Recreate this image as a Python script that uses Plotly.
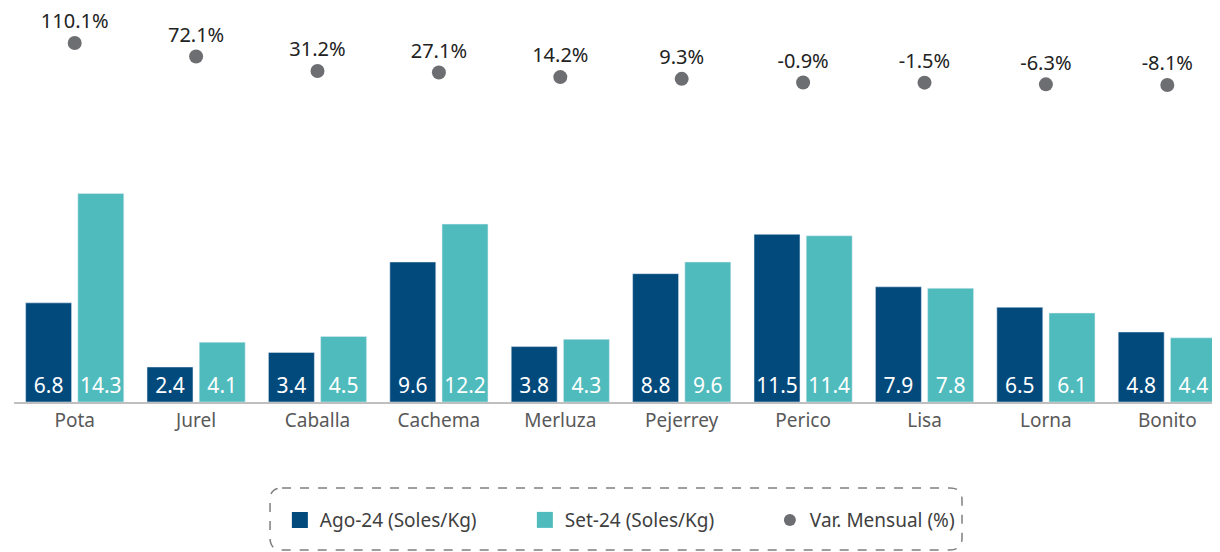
import plotly.graph_objects as go

# Datos
especies = ["Pota", "Jurel", "Caballa", "Cachema", "Merluza",
            "Pejerrey", "Perico", "Lisa", "Lorna", "Bonito"]
ago_24 = [6.8, 2.4, 3.4, 9.6, 3.8, 8.8, 11.5, 7.9, 6.5, 4.8]
set_24 = [14.3, 4.1, 4.5, 12.2, 4.3, 9.6, 11.4, 7.8, 6.1, 4.4]
var_mensual = [110.1, 72.1, 31.2, 27.1, 14.2, 9.3, -0.9, -1.5, -6.3, -8.1]

AZUL = "#02497c"
TURQUESA = "#4fbbbd"
GRIS = "#6d6e71"
FUENTE = "Noto Sans"

fig = go.Figure()

fig.add_trace(go.Bar(
    x=especies, y=ago_24, name="Ago-24 (Soles/Kg)",
    marker_color=AZUL, showlegend=False,
    text=[f"{v:.1f}" for v in ago_24], textposition="inside",
    insidetextanchor="start", textangle=0,
    textfont=dict(color="white", size=21, family=FUENTE),
))
fig.add_trace(go.Bar(
    x=especies, y=set_24, name="Set-24 (Soles/Kg)",
    marker_color=TURQUESA, showlegend=False,
    text=[f"{v:.1f}" for v in set_24], textposition="inside",
    insidetextanchor="start", textangle=0,
    textfont=dict(color="white", size=21, family=FUENTE),
))
fig.add_trace(go.Scatter(
    x=especies, y=var_mensual, name="Var. Mensual (%)",
    yaxis="y2", mode="markers+text", showlegend=False,
    marker=dict(color=GRIS, size=14),
    text=[f"{v:.1f}%" for v in var_mensual], textposition="top center",
    textfont=dict(color="#222222", size=20, family=FUENTE),
    cliponaxis=False,
))

# entradas de leyenda
fig.add_trace(go.Scatter(x=[None], y=[None], mode="markers", name="Ago-24 (Soles/Kg)",
                         marker=dict(symbol="square", size=18, color=AZUL)))
fig.add_trace(go.Scatter(x=[None], y=[None], mode="markers", name="Set-24 (Soles/Kg)",
                         marker=dict(symbol="square", size=18, color=TURQUESA)))
fig.add_trace(go.Scatter(x=[None], y=[None], mode="markers", name="Var. Mensual (%)",
                         marker=dict(size=12, color=GRIS)))

# marco discontinuo redondeado de la leyenda (coordenadas paper)
x0, x1, y0, y1 = 0.2109, 0.7809, -0.2251, -0.3874
rx, ry = 0.0099, 0.0314
marco = (f"M {x0+rx},{y0} L {x1-rx},{y0} Q {x1},{y0} {x1},{y0-ry} "
         f"L {x1},{y1+ry} Q {x1},{y1} {x1-rx},{y1} L {x0+rx},{y1} "
         f"Q {x0},{y1} {x0},{y1+ry} L {x0},{y0-ry} Q {x0},{y0} {x0+rx},{y0} Z")
fig.add_shape(type="path", path=marco, xref="paper", yref="paper",
              line=dict(color="#7f7f7f", width=1.5, dash="dash"))

fig.update_layout(
    width=1220, height=552,
    margin=dict(l=6, r=0, t=12, b=158, autoexpand=False),
    plot_bgcolor="white", paper_bgcolor="white",
    barmode="group", bargap=0.14, bargroupgap=0.12,
    font=dict(family=FUENTE, color="#404040"),
    uniformtext=dict(minsize=21, mode="show"),
    xaxis=dict(range=[-0.5, 9.5], showline=True, linecolor="#bfbfbf", linewidth=1.5,
               automargin=False, ticks="", tickfont=dict(size=19, color="#595959")),
    yaxis=dict(range=[0, 26.2], visible=False, showgrid=False),
    yaxis2=dict(range=[-901, 175], overlaying="y", visible=False, showgrid=False),
    legend=dict(orientation="h", x=0.219, xanchor="left", y=-0.309, yanchor="middle",
                font=dict(size=19, color="#404040"), entrywidth=200,
                bgcolor="rgba(0,0,0,0)"),
)

fig.write_html("out.html")
